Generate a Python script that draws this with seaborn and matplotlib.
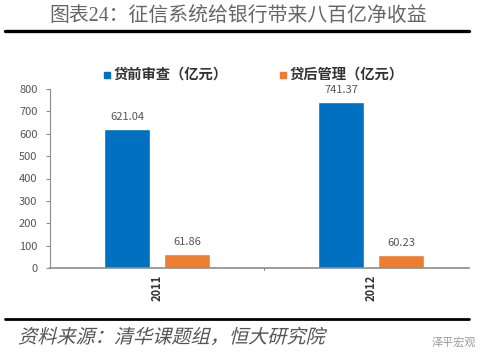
import pandas as pd
import seaborn as sns
import matplotlib.pyplot as plt
from matplotlib.lines import Line2D
from matplotlib.patches import Rectangle
from matplotlib.patheffects import AbstractPathEffect
from matplotlib.transforms import Affine2D

years = ['2011', '2012']
before_loan = [621.04, 741.37]
after_loan = [61.86, 60.23]
series_names = ['贷前审查（亿元）', '贷后管理（亿元）']
y_ticks = [0, 100, 200, 300, 400, 500, 600, 700, 800]

W, H = 482, 355
BLUE = '#0070c0'
ORANGE = '#ed7d31'
GREY = '#8c8c8c'
CJK = ['Noto Sans CJK SC', 'DejaVu Sans']


class Slant(AbstractPathEffect):
    """Leans the glyphs to the right, the CJK fonts have no italic."""

    def __init__(self, baseline, angle=14):
        super().__init__()
        self.lean = Affine2D().translate(0, -baseline).skew_deg(angle, 0).translate(0, baseline)

    def draw_path(self, renderer, gc, tpath, affine, rgbFace=None):
        renderer.draw_path(gc, tpath, affine + self.lean, rgbFace)


sns.set_style('white')
plt.rcParams['font.family'] = CJK

df = pd.DataFrame({
    'year': years * 2,
    'value': before_loan + after_loan,
    'series': [series_names[0]] * 2 + [series_names[1]] * 2,
})

fig = plt.figure(figsize=(W / 100, H / 100), dpi=100)
ax = fig.add_axes([50 / W, (H - 268) / H, 419 / W, 179 / H])

sns.barplot(
    data=df, x='year', y='value', hue='series',
    palette=[BLUE, ORANGE], width=0.56, gap=0.22,
    saturation=1, legend=False, ax=ax,
)
for container in ax.containers:
    ax.bar_label(container, fmt='%.2f', padding=5, fontsize=8, color='#555555')

ax.set_xlim(-0.5, 1.458)
ax.set_ylim(0, 800)
ax.set_yticks(y_ticks)
ax.set_xlabel('')
ax.set_ylabel('')
ax.tick_params(axis='y', left=True, length=3, color=GREY, labelsize=8, labelcolor='#555555', pad=6)
ax.tick_params(axis='x', bottom=False, labelsize=8, labelcolor='#333333', pad=1.5)
for label in ax.get_xticklabels():
    label.set_rotation(90)
    label.set_fontweight('bold')
sns.despine(ax=ax)
ax.spines['left'].set_color(GREY)
ax.spines['bottom'].set_color(GREY)
ax.spines['bottom'].set_linewidth(1.2)
# small mark between the two categories
ax.plot([0.5, 0.5], [0, -10], color=GREY, lw=0.8, clip_on=False)

# legend
for x, colour, name in zip([104, 280], [BLUE, ORANGE], series_names):
    fig.add_artist(Rectangle((x / W, (H - 78) / H), 6 / W, 6 / H, transform=fig.transFigure, color=colour))
    fig.text((x + 10) / W, (H - 75) / H, name, fontsize=10.3, fontweight='bold', color='#333333', va='center')

# header and footer
fig.text(238 / W, (H - 17) / H, '图表24：征信系统给银行带来八百亿净收益',
         fontsize=14.3, color='#666666', ha='center', va='center',
         family=['Liberation Serif', 'Noto Sans CJK SC'])
fig.add_artist(Line2D([5 / W, 469 / W], [(H - 31) / H] * 2, color='black', lw=2.4))
fig.add_artist(Line2D([5 / W, 469 / W], [(H - 319) / H] * 2, color='black', lw=2))
fig.text(18 / W, (H - 343) / H, '资料来源：清华课题组，恒大研究院',
         fontsize=13.8, color='#555555', va='baseline', path_effects=[Slant(H - 343)])
fig.text(476 / W, (H - 342) / H, '泽平宏观', fontsize=8, color='#999999', ha='right', va='center')

fig.savefig('out.png', dpi=100)
